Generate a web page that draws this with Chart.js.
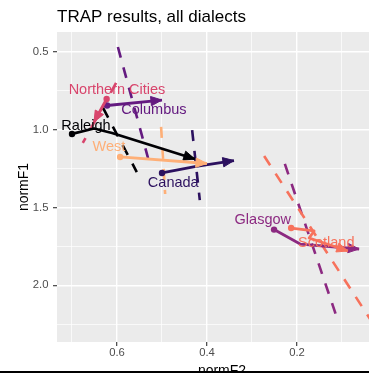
<!DOCTYPE html>
<html>
<head>
<meta charset="utf-8">
<script src="https://cdn.jsdelivr.net/npm/chart.js@4.4.1/dist/chart.umd.min.js"></script>
<style>
  html, body { margin: 0; padding: 0; background: #fff; overflow: hidden; }
  #wrap { position: relative; width: 400px; height: 390px; }
  #cut { position: absolute; left: 0; top: 370.5px; width: 400px; height: 20px; background: #fff; border-top: 2.5px solid #000; }
</style>
</head>
<body>
<div id="wrap"><canvas id="trap"></canvas><div id="cut"></div></div>
<script>
// dialects in painting order (the last one ends up on top)
const dialects = ['Canada', 'Columbus', 'Glasgow', 'Northern Cities', 'Raleigh', 'Scotland', 'West'];
const colors = ['#2C115F', '#641A80', '#8C2981', '#D8456C', '#000004', '#F7725C', '#FEAF77'];

// trajectories (normF2 / normF1), one list per dialect, arrow at the last point
const trajF2 = [
	[0.500, 0.424, 0.340],
	[0.622, 0.500],
	[0.251, 0.193, 0.062],
	[0.623, 0.651],
	[0.700, 0.651, 0.611, 0.427],
	[0.213, 0.162, 0.173, 0.087],
	[0.593, 0.400]
];
const trajF1 = [
	[1.278, 1.236, 1.198],
	[0.844, 0.809],
	[1.642, 1.735, 1.767],
	[0.802, 0.950],
	[1.027, 0.992, 1.021, 1.188],
	[1.632, 1.651, 1.696, 1.780],
	[1.175, 1.217]
];

// dashed lines, both ends
const lineF2 = [
	[0.433, 0.416],
	[0.598, 0.531],
	[0.227, 0.111],
	[0.602, 0.676],
	[0.631, 0.556],
	[0.273, 0.016],
	[0.502, 0.493]
];
const lineF1 = [
	[1.002, 1.452],
	[0.468, 1.182],
	[1.220, 2.211],
	[0.699, 1.085],
	[0.860, 1.272],
	[1.169, 2.313],
	[0.982, 1.413]
];

// where each dialect name is written
const labelF2 = [0.475, 0.518, 0.276, 0.600, 0.669, 0.135, 0.618];
const labelF1 = [1.340, 0.873, 1.581, 0.745, 0.976, 1.731, 1.109];

// axis breaks
const xMajor = [0.6, 0.4, 0.2], xMinor = [0.7, 0.5, 0.3, 0.1];
const yMajor = [0.5, 1.0, 1.5, 2.0], yMinor = [0.75, 1.25, 1.75, 2.25];

const font = "'Liberation Sans', Arial, Helvetica, sans-serif";
const isIn = ( list, v ) => list.some( t => Math.abs( t - v ) < 1e-6 );
const major = ( list ) => ( c ) => c.tick && isIn( list, c.tick.value );

// grey panel like ggplot
const panelBg = {
	id: 'panelBg',
	beforeDraw( chart ) {
		const a = chart.chartArea, ctx = chart.ctx;
		ctx.save();
		ctx.fillStyle = '#EBEBEB';
		ctx.fillRect( a.left, a.top, a.right - a.left, a.bottom - a.top );
		ctx.restore();
	}
};

// closed arrow head at the end of each trajectory
const arrowHeads = {
	id: 'arrowHeads',
	afterDatasetDraw( chart, args ) {
		const ds = chart.data.datasets[ args.index ];
		if ( !ds.arrow ) return;
		const pts = args.meta.data;
		const tip = pts[ pts.length - 1 ], prev = pts[ pts.length - 2 ];
		const ang = Math.atan2( tip.y - prev.y, tip.x - prev.x );
		const len = 12, spread = 0.4;
		const ctx = chart.ctx, a = chart.chartArea;
		ctx.save();
		ctx.beginPath();
		ctx.rect( a.left, a.top, a.right - a.left, a.bottom - a.top );
		ctx.clip();
		ctx.fillStyle = ds.borderColor;
		ctx.strokeStyle = ds.borderColor;
		ctx.lineWidth = 1;
		ctx.beginPath();
		ctx.moveTo( tip.x, tip.y );
		ctx.lineTo( tip.x - len * Math.cos( ang - spread ), tip.y - len * Math.sin( ang - spread ) );
		ctx.lineTo( tip.x - len * Math.cos( ang + spread ), tip.y - len * Math.sin( ang + spread ) );
		ctx.closePath();
		ctx.fill();
		ctx.stroke();
		ctx.restore();
	}
};

// dialect names
const dialectLabels = {
	id: 'dialectLabels',
	afterDatasetsDraw( chart ) {
		const ctx = chart.ctx, x = chart.scales.x, y = chart.scales.y;
		ctx.save();
		ctx.font = '14.5px ' + font;
		ctx.textAlign = 'center';
		ctx.textBaseline = 'middle';
		dialects.forEach( ( name, i ) => {
			ctx.fillStyle = colors[ i ];
			ctx.fillText( name, x.getPixelForValue( labelF2[ i ] ), y.getPixelForValue( labelF1[ i ] ) );
		} );
		ctx.restore();
	}
};

let datasets = [];
dialects.forEach( ( name, i ) => {
	datasets.push( {
		label: name + ' slope',
		data: lineF2[ i ].map( ( v, j ) => ( { x: v, y: lineF1[ i ][ j ] } ) ),
		showLine: true,
		borderColor: colors[ i ],
		borderWidth: 2.6,
		borderDash: [ 11, 10 ],
		pointRadius: 0,
		clip: 0
	} );
} );
dialects.forEach( ( name, i ) => {
	datasets.push( {
		label: name,
		data: trajF2[ i ].map( ( v, j ) => ( { x: v, y: trajF1[ i ][ j ] } ) ),
		showLine: true,
		arrow: true,
		borderColor: colors[ i ],
		borderWidth: 2.8,
		borderJoinStyle: 'round',
		pointRadius: c => c.dataIndex === 0 ? 3.2 : 0,
		pointBackgroundColor: colors[ i ],
		pointBorderWidth: 0,
		clip: 0
	} );
} );
// Chart.js paints the first dataset last, so flip it
datasets.reverse();

new Chart( document.getElementById( 'trap' ), {
	type: 'scatter',
	data: { datasets: datasets },
	plugins: [ panelBg, arrowHeads, dialectLabels ],
	options: {
		responsive: true,
		maintainAspectRatio: false,
		animation: false,
		layout: { padding: { left: 0, right: 13, top: 0, bottom: 0 } },
		plugins: {
			legend: { display: false },
			tooltip: { enabled: false },
			title: {
				display: true,
				text: 'TRAP results, all dialects',
				align: 'start',
				fullSize: false,
				color: '#000',
				font: { family: font, size: 17, weight: 'normal' },
				padding: { top: 6.8, bottom: 4.8 }
			}
		},
		scales: {
			x: {
				type: 'linear',
				reverse: true,
				min: 0.0,
				max: 0.7333,
				afterBuildTicks: s => { s.ticks = xMinor.concat( xMajor ).sort( ( a, b ) => b - a ).map( v => ( { value: v } ) ); },
				afterFit: s => { s.height = 48; },
				border: { display: false },
				grid: {
					color: '#FFFFFF',
					lineWidth: c => major( xMajor )( c ) ? 1.4 : 0.7,
					tickColor: c => major( xMajor )( c ) ? '#333333' : 'rgba(0,0,0,0)',
					tickLength: 4,
					tickWidth: 1.1
				},
				ticks: {
					callback: v => isIn( xMajor, v ) ? v.toFixed( 1 ) : '',
					color: '#4D4D4D',
					font: { family: font, size: 11.3 },
					padding: 0,
					maxRotation: 0,
					autoSkip: false
				},
				title: {
					display: true,
					text: 'normF2',
					color: '#000',
					font: { family: font, size: 14 },
					padding: { top: 0, bottom: 10.6 }
				}
			},
			y: {
				type: 'linear',
				reverse: true,
				min: 0.3714,
				max: 2.365,
				afterBuildTicks: s => { s.ticks = yMinor.concat( yMajor ).sort( ( a, b ) => a - b ).map( v => ( { value: v } ) ); },
				afterFit: s => { s.width = 57; },
				border: { display: false },
				grid: {
					color: '#FFFFFF',
					lineWidth: c => major( yMajor )( c ) ? 1.4 : 0.7,
					tickColor: c => major( yMajor )( c ) ? '#333333' : 'rgba(0,0,0,0)',
					tickLength: 4,
					tickWidth: 1.1
				},
				ticks: {
					callback: v => isIn( yMajor, v ) ? v.toFixed( 1 ) : '',
					color: '#4D4D4D',
					font: { family: font, size: 11.3 },
					padding: 4.5,
					autoSkip: false
				},
				title: {
					display: true,
					text: 'normF1',
					color: '#000',
					font: { family: font, size: 14 },
					padding: { top: 15.6, bottom: 0 }
				}
			}
		}
	}
} );
</script>
</body>
</html>
